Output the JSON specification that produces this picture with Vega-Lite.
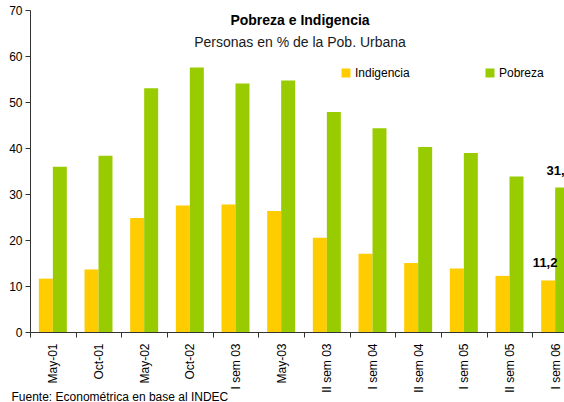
{
  "$schema": "https://vega.github.io/schema/vega-lite/v6.json",
  "autosize": "none",
  "padding": {"left": 30, "top": 10, "right": 0, "bottom": 70},
  "width": 534,
  "height": 322,
  "background": "white",
  "title": {
    "text": "Pobreza e Indigencia",
    "subtitle": "Personas en % de la Pob. Urbana",
    "anchor": "middle",
    "frame": "group",
    "offset": -46,
    "dx": 3,
    "font": "Liberation Sans",
    "fontSize": 14,
    "fontWeight": "bold",
    "color": "#000000",
    "subtitleFont": "Liberation Sans",
    "subtitleFontSize": 14,
    "subtitleColor": "#1a1a1a",
    "subtitlePadding": 8
  },
  "data": {
    "values": [
      {"periodo": "May-01", "serie": "Indigencia", "valor": 11.6},
      {"periodo": "May-01", "serie": "Pobreza", "valor": 35.9},
      {"periodo": "Oct-01", "serie": "Indigencia", "valor": 13.6},
      {"periodo": "Oct-01", "serie": "Pobreza", "valor": 38.3},
      {"periodo": "May-02", "serie": "Indigencia", "valor": 24.8},
      {"periodo": "May-02", "serie": "Pobreza", "valor": 53.0},
      {"periodo": "Oct-02", "serie": "Indigencia", "valor": 27.5},
      {"periodo": "Oct-02", "serie": "Pobreza", "valor": 57.5},
      {"periodo": "I sem 03", "serie": "Indigencia", "valor": 27.7},
      {"periodo": "I sem 03", "serie": "Pobreza", "valor": 54.0},
      {"periodo": "May-03", "serie": "Indigencia", "valor": 26.3},
      {"periodo": "May-03", "serie": "Pobreza", "valor": 54.7},
      {"periodo": "II sem 03", "serie": "Indigencia", "valor": 20.5},
      {"periodo": "II sem 03", "serie": "Pobreza", "valor": 47.8},
      {"periodo": "I sem 04", "serie": "Indigencia", "valor": 17.0},
      {"periodo": "I sem 04", "serie": "Pobreza", "valor": 44.3},
      {"periodo": "II sem 04", "serie": "Indigencia", "valor": 15.0},
      {"periodo": "II sem 04", "serie": "Pobreza", "valor": 40.2},
      {"periodo": "I sem 05", "serie": "Indigencia", "valor": 13.8},
      {"periodo": "I sem 05", "serie": "Pobreza", "valor": 38.9},
      {"periodo": "II sem 05", "serie": "Indigencia", "valor": 12.2},
      {"periodo": "II sem 05", "serie": "Pobreza", "valor": 33.8},
      {"periodo": "I sem 06", "serie": "Indigencia", "valor": 11.2},
      {"periodo": "I sem 06", "serie": "Pobreza", "valor": 31.4}
    ]
  },
  "encoding": {
    "x": {
      "field": "periodo",
      "type": "nominal",
      "sort": null,
      "scale": {"range": [0, 548], "paddingInner": 0, "paddingOuter": 0},
      "axis": {
        "title": "Fuente: Econométrica en base al INDEC",
        "titleAnchor": "start",
        "titleAlign": "left",
        "titleX": -19,
        "titleY": 68,
        "titleBaseline": "alphabetic",
        "titleFont": "Liberation Sans",
        "titleFontSize": 12,
        "titleFontWeight": "normal",
        "titleColor": "#000000",
        "labelAngle": -90,
        "labelAlign": "right",
        "labelBaseline": "middle",
        "labelFont": "Liberation Sans",
        "labelFontSize": 12,
        "labelColor": "#000000",
        "labelPadding": 6,
        "tickBand": "extent",
        "tickSize": 5,
        "tickColor": "#333333",
        "domainColor": "#333333",
        "labelOverlap": false
      }
    },
    "xOffset": {
      "field": "serie",
      "type": "nominal",
      "scale": {"paddingOuter": 0.632, "paddingInner": 0}
    },
    "y": {
      "field": "valor",
      "type": "quantitative",
      "scale": {"domain": [0, 70], "nice": false},
      "axis": {
        "title": null,
        "values": [0, 10, 20, 30, 40, 50, 60, 70],
        "grid": false,
        "tickSize": 5,
        "tickColor": "#333333",
        "domainColor": "#333333",
        "labelPadding": 3,
        "labelFont": "Liberation Sans",
        "labelFontSize": 12,
        "labelColor": "#000000"
      }
    }
  },
  "layer": [
    {
      "mark": {"type": "bar"},
      "encoding": {
        "color": {
          "field": "serie",
          "type": "nominal",
          "scale": {"domain": ["Indigencia", "Pobreza"], "range": ["#FFCC00", "#99CC00"]},
          "legend": {
            "title": null,
            "orient": "none",
            "legendX": 310,
            "legendY": 57,
            "direction": "horizontal",
            "symbolType": "square",
            "symbolSize": 81,
            "symbolStrokeWidth": 0,
            "symbolOpacity": 1,
            "labelFont": "Liberation Sans",
            "labelFontSize": 12,
            "labelColor": "#000000",
            "labelOffset": 3,
            "columnPadding": 74,
            "padding": 0
          }
        }
      }
    },
    {
      "transform": [{"filter": "datum.periodo == 'I sem 06'"}],
      "mark": {
        "type": "text",
        "baseline": "middle",
        "dy": -17,
        "dx": -3,
        "font": "Liberation Sans",
        "fontSize": 13,
        "fontWeight": "bold",
        "color": "#000000"
      },
      "encoding": {
        "text": {"field": "valor", "type": "quantitative", "format": ".1f"}
      }
    }
  ],
  "config": {
    "view": {"stroke": null},
    "font": "Liberation Sans",
    "locale": {
      "number": {"decimal": ",", "thousands": ".", "grouping": [3], "currency": ["$", ""]}
    }
  }
}
